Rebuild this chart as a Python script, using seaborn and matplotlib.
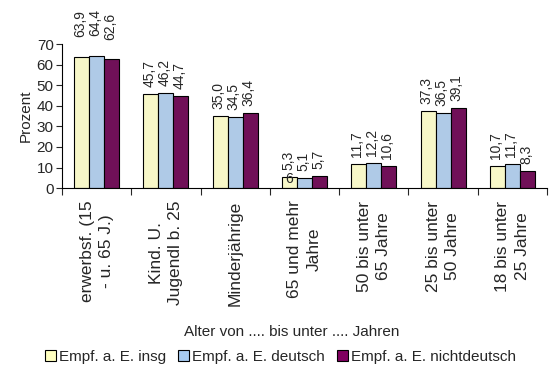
import pandas as pd
import numpy as np
import matplotlib
matplotlib.use("Agg")
import matplotlib.pyplot as plt
import seaborn as sns

categories = ["erwerbsf. (15\n- u. 65 J.)", "Kind. U.\nJugendl b. 25", "Minderjährige",
              "65 und mehr\nJahre", "50 bis unter\n65 Jahre", "25 bis unter\n50 Jahre",
              "18 bis unter\n25 Jahre"]
series = ["Empf. a. E. insg", "Empf. a. E. deutsch", "Empf. a. E. nichtdeutsch"]
insg = [63.9, 45.7, 35.0, 5.3, 11.7, 37.3, 10.7]
deutsch = [64.4, 46.2, 34.5, 5.1, 12.2, 36.5, 11.7]
nichtdeutsch = [62.6, 44.7, 36.4, 5.7, 10.6, 39.1, 8.3]
colours = ["#FFFFC0", "#A6CAF0", "#800060"]

df = pd.DataFrame({
    "Kategorie": categories * 3,
    "Gruppe": [s for s in series for _ in categories],
    "Prozent": insg + deutsch + nichtdeutsch,
})

sns.set_style("white")
plt.rcParams["font.family"] = ["Liberation Sans", "DejaVu Sans"]

fig = plt.figure(figsize=(5.5, 3.74), dpi=100)
ax = fig.add_axes([0.1127, 0.497, 0.882, 0.385])
sns.barplot(data=df, x="Kategorie", y="Prozent", hue="Gruppe", palette=colours,
            width=0.65, edgecolor="black", linewidth=0.8, ax=ax, legend=True)

# value labels above the bars
for cont in ax.containers:
    for i, bar in enumerate(cont):
        h = bar.get_height()
        off = 14 if i == 0 else 5
        ax.annotate(f"{h:.1f}".replace(".", ","), (bar.get_x() + bar.get_width() / 2, h),
                    xytext=(-1, off), textcoords="offset points", rotation=90,
                    ha="center", va="bottom", fontsize=10, annotation_clip=False)

# stray label inside the small yellow bar
ax.text(3 - 0.65 / 3, 1.0, "6", ha="center", va="bottom", fontsize=10)

ax.set_ylim(0, 70)
ax.set_xlim(-0.5, 6.5)
ax.set_yticks(range(0, 71, 10))
ax.tick_params(axis="y", labelsize=11, length=4, direction="out", left=True, width=0.8, pad=2)

# category labels, drawn below the axis
ax.set_xticks([])
ax.set_xticks(np.arange(-0.5, 7, 1), minor=True)
ax.tick_params(axis="x", which="minor", length=5, bottom=True, direction="out", width=0.8)
for i, lab in enumerate(categories):
    ax.annotate(lab, (i, 0), xycoords=("data", "axes fraction"), xytext=(0, -9),
                textcoords="offset points", rotation=90, ha="center", va="top",
                multialignment="center", linespacing=1.35, fontsize=12.5,
                annotation_clip=False)

for s in ["top", "right"]:
    ax.spines[s].set_visible(False)
for s in ["left", "bottom"]:
    ax.spines[s].set_color("black")
    ax.spines[s].set_linewidth(0.8)

ax.set_ylabel("Prozent", fontsize=11, labelpad=3)
ax.set_xlabel("")
fig.text(0.53, 0.112, "Alter von .... bis unter .... Jahren", ha="center", va="center", fontsize=11)

ax.legend_.remove()
handles = [plt.Rectangle((0, 0), 1, 1, facecolor=c, edgecolor="black", linewidth=0.8) for c in colours]
fig.legend(handles, series, loc="center", bbox_to_anchor=(0.51, 0.045), ncol=3, frameon=False,
           fontsize=11, handlelength=0.7, handleheight=0.7, handletextpad=0.2, columnspacing=0.8)

fig.savefig("out.png", dpi=100)
